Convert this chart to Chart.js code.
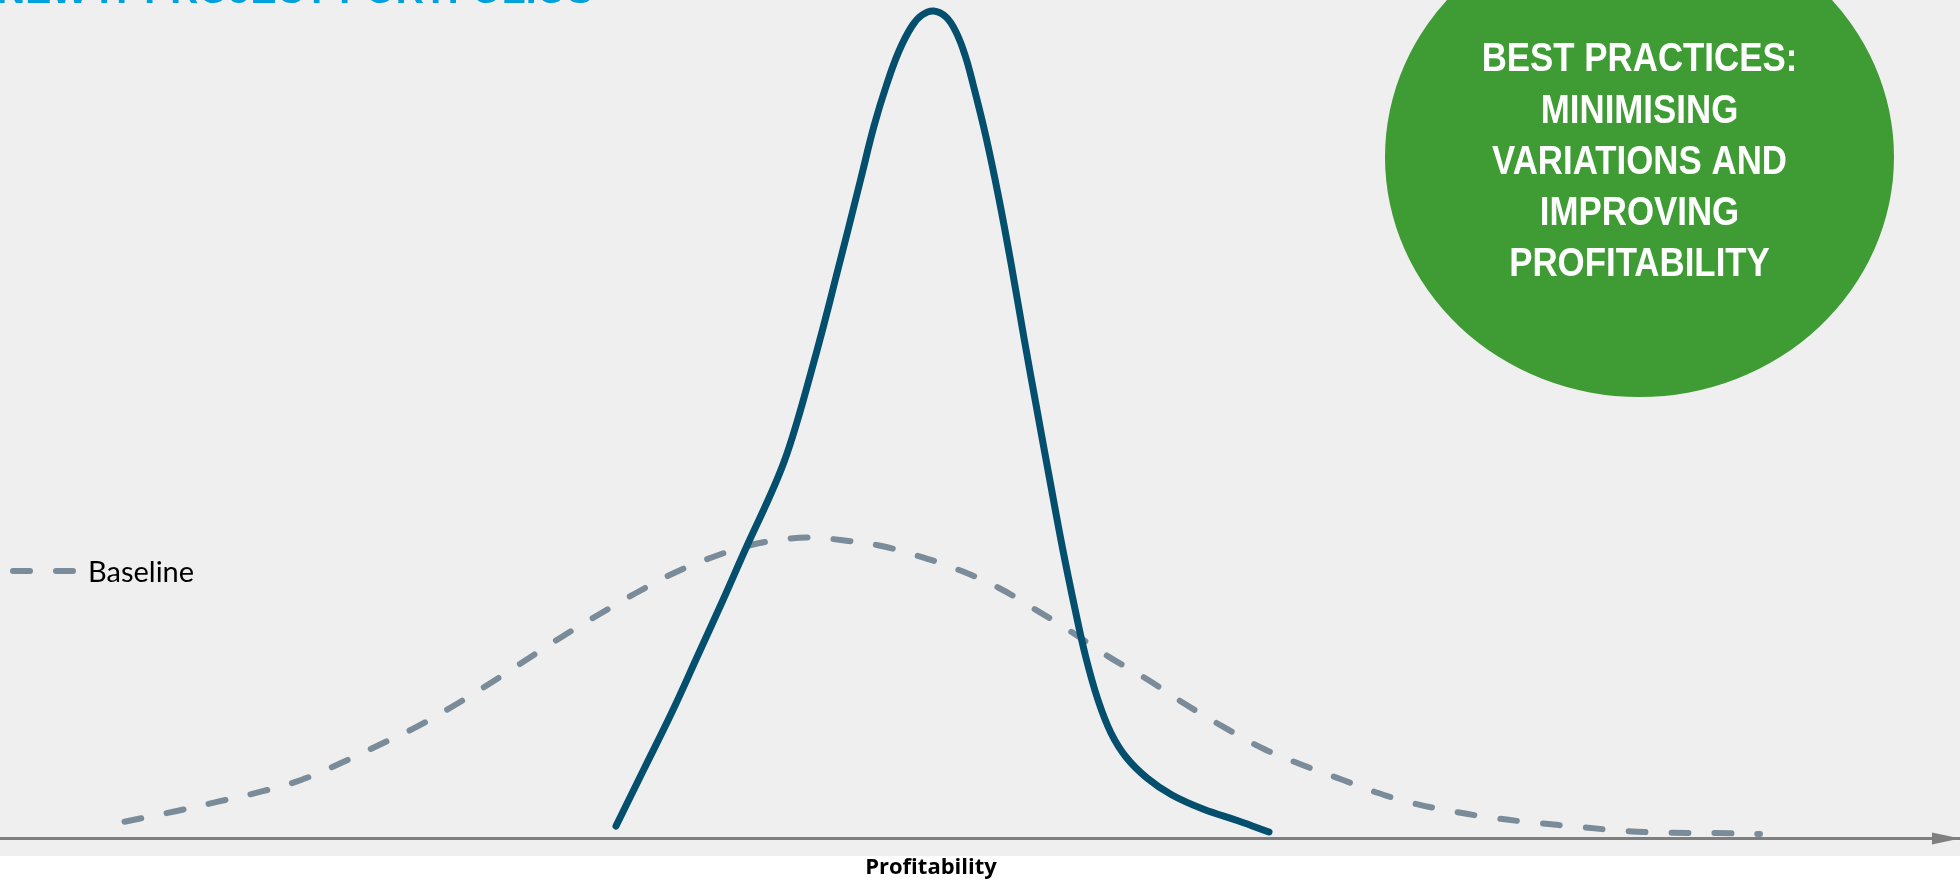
<!DOCTYPE html>
<html>
<head>
<meta charset="utf-8">
<title>Profitability distribution</title>
<script src="https://cdn.jsdelivr.net/npm/chart.js@4/dist/chart.umd.min.js"></script>
<style>
  html, body { margin: 0; padding: 0; background: #ffffff; }
  #wrap { position: relative; width: 1960px; height: 880px; overflow: hidden; }
  canvas { display: block; }
</style>
</head>
<body>
<div id="wrap"><canvas id="chart" width="1960" height="880"></canvas></div>
<script>
// Profitability (x) and relative frequency (y) for the two portfolios
const bestPracticeX = [61.6, 64.4, 67.2, 69.8, 72.3, 74.6, 76.9, 78.4, 79.7, 81.0, 82.3, 83.55, 84.8, 86.1, 87.4, 88.65, 89.9, 91.2, 92.2, 93.35, 94.6, 95.6, 96.5, 97.3, 98.6, 99.9, 101.15, 102.4, 103.7, 105.0, 106.25, 107.5, 108.55, 109.8, 111.1, 112.6, 114.7, 117.2, 120.3, 123.86, 126.9];
const bestPracticeY = [1.2, 6.9, 12.6, 18.3, 23.8, 29.0, 34.0, 37.6, 41.6, 46.2, 51.0, 55.9, 60.8, 66.0, 71.2, 75.3, 78.7, 81.2, 82.3, 82.7, 82.1, 80.6, 78.3, 75.4, 70.1, 63.9, 57.2, 50.0, 42.8, 35.7, 29.0, 22.9, 18.2, 13.8, 10.5, 8.1, 6.0, 4.3, 2.9, 1.7, 0.6];

const baselineX = [12.45, 17.8, 21.8, 26.07, 30.1, 34.1, 37.9, 41.7, 45.5, 49.06, 52.6, 56.2, 59.8, 63.6, 67.4, 71.3, 75.1, 79.0, 81.5, 84.06, 87.9, 91.7, 95.8, 99.9, 103.45, 107.0, 110.85, 114.67, 118.5, 122.3, 126.4, 130.5, 134.3, 137.5, 141.2, 145.6, 149.4, 153.7, 158.1, 162.5, 166.9, 171.2, 176.0];
const baselineY = [1.63, 2.73, 3.63, 4.63, 5.8, 7.5, 9.3, 11.13, 13.3, 15.5, 17.8, 20.13, 22.3, 24.5, 26.5, 28.1, 29.3, 29.95, 30.04, 29.8, 29.25, 28.24, 26.84, 25.0, 22.9, 20.7, 18.14, 15.9, 13.4, 11.13, 8.9, 7.2, 5.8, 4.6, 3.5, 2.6, 2.0, 1.5, 1.1, 0.7, 0.53, 0.5, 0.4];

const seriesLabels = ['Best practices', 'Baseline'];
const axisTitle = 'Profitability';
const pageTitle = 'NEW IT PROJECT PORTFOLIOS';
const calloutLines = ['BEST PRACTICES:', 'MINIMISING', 'VARIATIONS AND', 'IMPROVING', 'PROFITABILITY'];

const toPoints = (xs, ys) => xs.map((x, i) => ({ x, y: ys[i] }));

// Grey panel behind the plot, the cut-off heading, the axis arrowhead and the axis title
const panelPlugin = {
  id: 'panel',
  beforeDraw(chart) {
    const { ctx } = chart;
    ctx.save();
    ctx.fillStyle = '#efefef';
    ctx.fillRect(0, 0, chart.width, 856);
    ctx.fillStyle = '#00a0dc';
    ctx.font = 'bold 39px "Liberation Sans", Arial, sans-serif';
    ctx.textBaseline = 'alphabetic';
    ctx.textAlign = 'left';
    ctx.fillText(pageTitle, -3, 3);
    ctx.restore();
  },
  afterDraw(chart) {
    const { ctx, chartArea } = chart;
    const y = chartArea.bottom + 0.5;
    ctx.save();
    ctx.fillStyle = '#7f7f7f';
    ctx.beginPath();
    ctx.moveTo(chartArea.right - 28, y - 6);
    ctx.lineTo(chartArea.right, y);
    ctx.lineTo(chartArea.right - 28, y + 6);
    ctx.closePath();
    ctx.fill();

    ctx.fillStyle = '#000000';
    ctx.font = 'bold 22px "Open Sans", sans-serif';
    ctx.textAlign = 'center';
    ctx.textBaseline = 'alphabetic';
    ctx.fillText(axisTitle, 931, 874);
    ctx.restore();
  }
};

// Green callout ellipse with its message
const calloutPlugin = {
  id: 'callout',
  afterDraw(chart) {
    const { ctx } = chart;
    const cx = 1639.5;
    ctx.save();
    ctx.fillStyle = '#3f9c35';
    ctx.beginPath();
    ctx.ellipse(cx, 157, 254.5, 240, 0, 0, Math.PI * 2);
    ctx.fill();
    ctx.fillStyle = '#ffffff';
    ctx.font = 'bold 41px "Liberation Sans", Arial, sans-serif';
    ctx.textAlign = 'center';
    ctx.textBaseline = 'alphabetic';
    const baselines = [71, 123, 174, 225, 276];
    calloutLines.forEach((line, i) => {
      ctx.save();
      ctx.translate(cx, baselines[i]);
      ctx.scale(0.85, 1);
      ctx.fillText(line, 0, 0);
      ctx.restore();
    });
    ctx.restore();
  }
};

// Legend entry for the dashed baseline series, drawn from its dataset style
const baselineLegendPlugin = {
  id: 'baselineLegend',
  afterDraw(chart) {
    const ds = chart.data.datasets[1];
    const { ctx } = chart;
    ctx.save();
    ctx.strokeStyle = ds.borderColor;
    ctx.lineWidth = ds.borderWidth;
    ctx.lineCap = 'round';
    ctx.setLineDash(ds.borderDash);
    ctx.beginPath();
    ctx.moveTo(13, 571);
    ctx.lineTo(74, 571);
    ctx.stroke();
    ctx.setLineDash([]);
    ctx.fillStyle = '#000000';
    ctx.font = '29px Lato, "Open Sans", sans-serif';
    ctx.textAlign = 'left';
    ctx.textBaseline = 'alphabetic';
    ctx.fillText(ds.label, 88, 582);
    ctx.restore();
  }
};

new Chart(document.getElementById('chart'), {
  type: 'line',
  data: {
    datasets: [
      {
        label: seriesLabels[0],
        data: toPoints(bestPracticeX, bestPracticeY),
        borderColor: '#034f6d',
        borderWidth: 7,
        borderCapStyle: 'round',
        borderJoinStyle: 'round',
        pointRadius: 0,
        fill: false,
        tension: 0.4
      },
      {
        label: seriesLabels[1],
        data: toPoints(baselineX, baselineY),
        borderColor: '#7a8c99',
        borderWidth: 6,
        borderDash: [17, 26],
        borderCapStyle: 'round',
        pointRadius: 0,
        fill: false,
        tension: 0.4
      }
    ]
  },
  options: {
    responsive: false,
    animation: false,
    layout: { padding: { left: 0, right: 0, top: 0, bottom: 42 } },
    plugins: {
      legend: { display: false },
      tooltip: { enabled: false },
      title: { display: false }
    },
    scales: {
      x: {
        type: 'linear',
        min: 0,
        max: 196,
        grid: { display: false, drawTicks: false },
        ticks: { display: false },
        border: { display: true, color: '#7f7f7f', width: 3 },
        title: { display: false, text: axisTitle }
      },
      y: {
        display: false,
        min: 0,
        max: 83.8
      }
    }
  },
  plugins: [panelPlugin, calloutPlugin, baselineLegendPlugin]
});
</script>
</body>
</html>
